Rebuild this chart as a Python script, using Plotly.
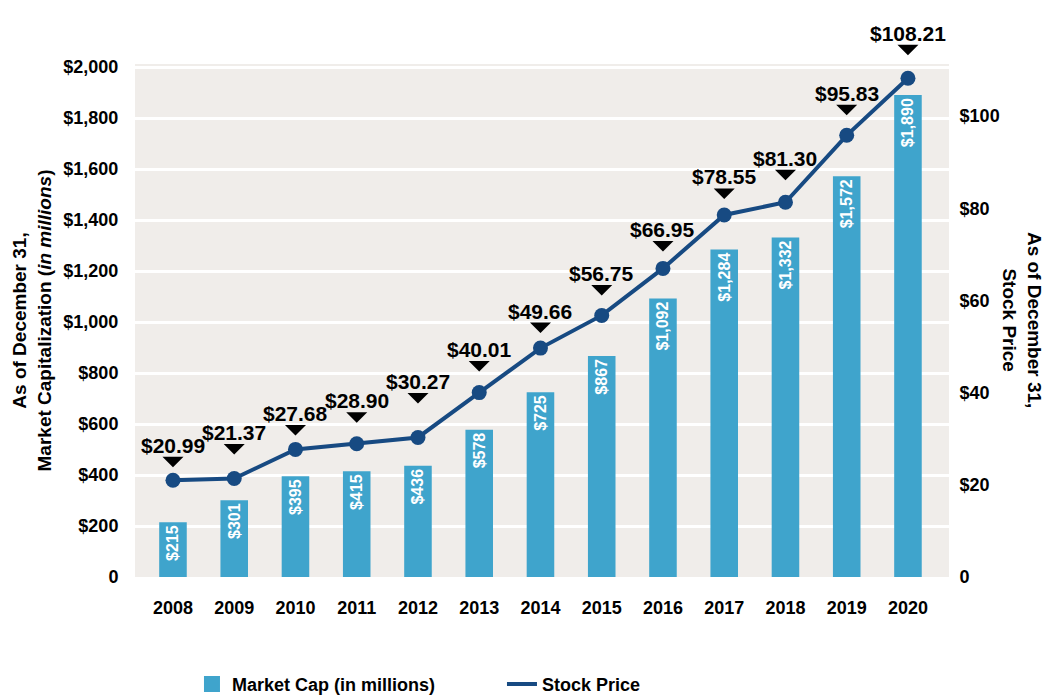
import plotly.graph_objects as go

years = ["2008", "2009", "2010", "2011", "2012", "2013", "2014",
         "2015", "2016", "2017", "2018", "2019", "2020"]
market_cap = [215, 301, 395, 415, 436, 578, 725, 867, 1092, 1284, 1332, 1572, 1890]
stock_price = [20.99, 21.37, 27.68, 28.90, 30.27, 40.01, 49.66,
               56.75, 66.95, 78.55, 81.30, 95.83, 108.21]

left_ticks = [0, 200, 400, 600, 800, 1000, 1200, 1400, 1600, 1800, 2000]
left_labels = ["0"] + [f"${v:,}" for v in left_ticks[1:]]
right_ticks = [0, 20, 40, 60, 80, 100]
right_labels = ["0"] + [f"${v}" for v in right_ticks[1:]]

BAR = "#3fa4cc"
LINE = "#174a82"
BG = "#f0edea"
FONT = "Liberation Sans, Arial, sans-serif"

# how far (px) each price callout triangle sits above its point, as hand-placed in the original
callout_lift = [18, 29, 19, 26, 39, 26, 20, 25, 22, 21, 27, 25, 28]

fig = go.Figure()

fig.add_trace(go.Bar(
    x=years,
    y=market_cap,
    name="Market Cap (in millions)",
    marker=dict(color=BAR, line=dict(width=0)),
    width=0.45,
    text=[f"${v:,}" for v in market_cap],
    textposition="inside",
    insidetextanchor="end",
    textangle=-90,
    textfont=dict(color="white", size=16, family=FONT, weight="bold"),
    showlegend=False,
))

fig.add_trace(go.Scatter(
    x=years,
    y=stock_price,
    name="Stock Price",
    mode="lines+markers",
    line=dict(color=LINE, width=4),
    marker=dict(color=LINE, size=15),
    yaxis="y2",
    cliponaxis=False,
    showlegend=False,
))

# legend entries (square swatch for bars, plain line for price)
fig.add_trace(go.Scatter(x=[None], y=[None], mode="markers", name="Market Cap (in millions)",
                         marker=dict(symbol="square", size=16, color=BAR)))
fig.add_trace(go.Scatter(x=[None], y=[None], mode="lines", name="Stock Price",
                         line=dict(color=LINE, width=4), yaxis="y2"))

# price labels with a small down-pointing triangle above each point
for i, (p, lift) in enumerate(zip(stock_price, callout_lift)):
    fig.add_annotation(x=i, y=p, yref="y2", text=f"${p:.2f}",
                       showarrow=True, arrowhead=1, arrowsize=3.5, arrowwidth=1,
                       arrowcolor="black", ax=0, ay=-(lift + 17), standoff=lift - 5,
                       font=dict(size=21, color="black", family=FONT, weight="bold"))

# right axis title reads top-to-bottom
fig.add_annotation(x=1.121, y=0.5, xref="paper", yref="paper",
                   text="As of December 31,<br>Stock Price",
                   textangle=90, showarrow=False,
                   font=dict(size=19, color="black", family=FONT, weight="bold"))

# page body adds an 8px margin, so the figure is drawn 8px smaller than the window
fig.update_layout(
    width=1052, height=688,
    margin=dict(l=127, r=111, t=56, b=119, autoexpand=False),
    plot_bgcolor=BG,
    paper_bgcolor="white",
    font=dict(family=FONT, color="black"),
    showlegend=True,
    legend=dict(orientation="h", x=0.07, y=-0.209, xanchor="left", yanchor="middle",
                font=dict(size=18, family=FONT, weight="bold"), itemwidth=30,
                entrywidth=265, entrywidthmode="pixels"),
    xaxis=dict(
        range=[-0.62, 12.67],
        showgrid=False,
        tickfont=dict(size=18, weight="bold"),
        ticks="outside", ticklen=14, tickcolor="rgba(0,0,0,0)",
        showline=False, zeroline=False,
    ),
    yaxis=dict(
        range=[0, 2012],
        tickvals=left_ticks,
        ticktext=left_labels,
        tickfont=dict(size=18, weight="bold"),
        showgrid=True, gridcolor="white", gridwidth=2.5,
        zeroline=False, showline=False,
        ticks="outside", ticklen=12, tickcolor="rgba(0,0,0,0)",
        title=dict(text="As of December 31,<br>Market Capitalization (<i>in millions</i>)",
                   font=dict(size=19, weight="bold"), standoff=6),
    ),
    yaxis2=dict(
        range=[0, 111.3],
        overlaying="y",
        side="right",
        tickvals=right_ticks,
        ticktext=right_labels,
        tickfont=dict(size=18, weight="bold"),
        showgrid=False, zeroline=False, showline=False,
        ticks="outside", ticklen=6, tickcolor="rgba(0,0,0,0)",
    ),
)

fig.write_html("out.html")
